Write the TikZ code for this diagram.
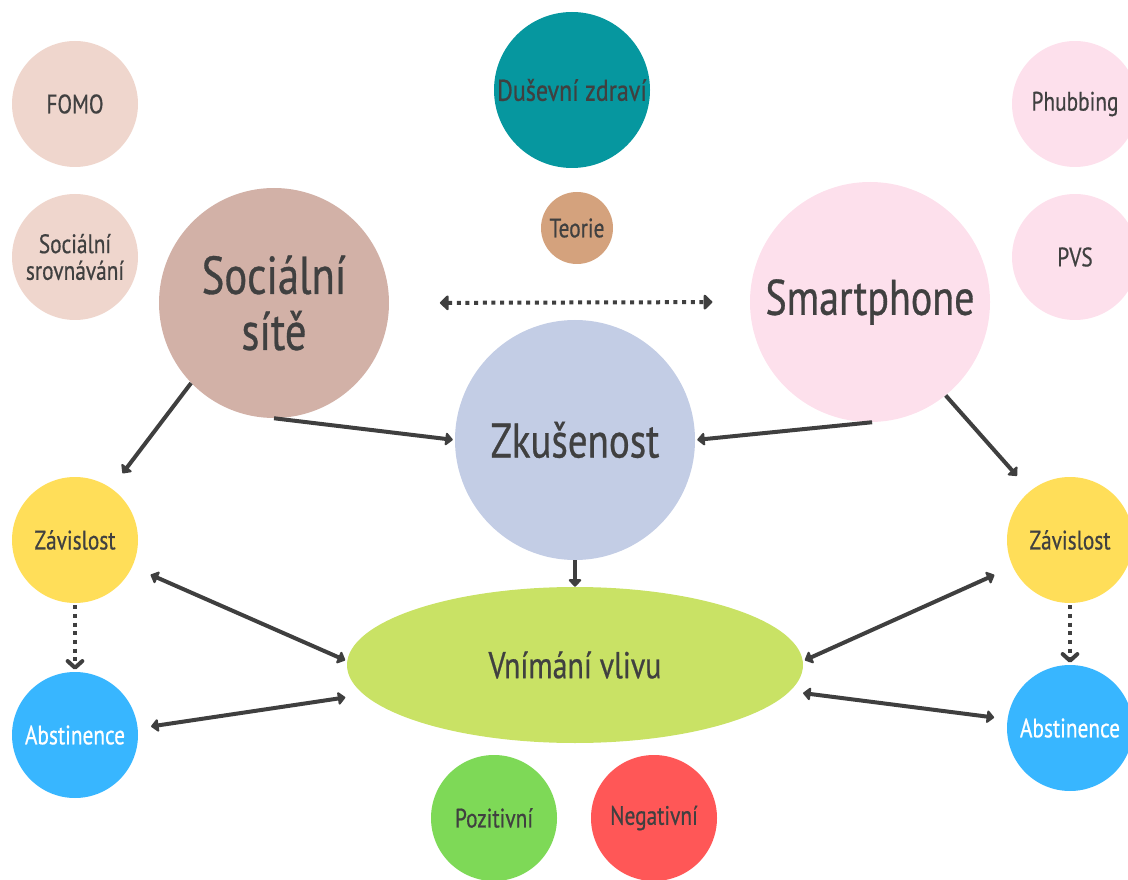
\documentclass[tikz,border=0pt]{standalone}
\usepackage{fontspec}
\setmainfont{PT Sans}[FakeStretch=0.8,FakeBold=0.6]
\usetikzlibrary{arrows.meta,shapes.geometric}
\definecolor{txt}{HTML}{404040}
\definecolor{ac}{HTML}{3F3F3F}
\definecolor{cBeige}{HTML}{EFD6CD}
\definecolor{cRose}{HTML}{D2B1A7}
\definecolor{cTeal}{HTML}{06979F}
\definecolor{cTan}{HTML}{D4A27D}
\definecolor{cPink}{HTML}{FDE0EC}
\definecolor{cLav}{HTML}{C3CDE5}
\definecolor{cYel}{HTML}{FFDE59}
\definecolor{cBlue}{HTML}{38B6FF}
\definecolor{cLime}{HTML}{C9E265}
\definecolor{cGreen}{HTML}{7ED957}
\definecolor{cRed}{HTML}{FF5757}
\tikzset{
  bub/.style={circle, inner sep=0pt, align=center, text=txt},
  small/.style={bub, minimum size=94.5pt, font=\fontsize{20}{20}\selectfont},
  arr/.style={draw=ac, line width=3pt, -{Triangle[round,length=6pt,width=11pt]}},
  darr/.style={draw=ac, line width=3pt, {Triangle[round,length=6pt,width=11pt]}-{Triangle[round,length=6pt,width=11pt]}},
  dotarr/.style={draw=ac, line width=3pt, dash pattern=on 3pt off 3.5pt, -{Straight Barb[round,length=5pt,width=11pt]}},
  dotdarr/.style={draw=ac, line width=3pt, dash pattern=on 3pt off 3.5pt, {Triangle[round,length=7pt,width=13pt]}-{Triangle[round,length=7pt,width=13pt]}}
}
\begin{document}
\begin{tikzpicture}[x=0.75pt,y=-0.75pt]
\useasboundingbox (0,0) rectangle (1128,880);
% nodes
\node[small, fill=cBeige] (fomo) at (75,104) {FOMO};
\node[small, fill=cBeige] (srov) at (75,257) {Sociální\\srovnávání};
\node[bub, fill=cRose, minimum size=172.5pt, font=\fontsize{40}{42}\selectfont] (ss) at (274,303) {Sociální\\sítě};
\node[bub, fill=cTeal, minimum size=117pt, font=\fontsize{22.5}{24}\selectfont] (dz) at (572,90) {Duševní zdraví};
\node[bub, fill=cTan, minimum size=54pt, font=\fontsize{20}{22}\selectfont] (teo) at (577,228) {Teorie};
\node[small, fill=cPink] (phub) at (1075,104) {Phubbing};
\node[small, fill=cPink] (pvs) at (1075,257) {PVS};
\node[bub, fill=cPink, minimum size=180pt, font=\fontsize{37.5}{40}\selectfont] (sm) at (870,302) {Smartphone};
\node[bub, fill=cLav, minimum size=180pt, font=\fontsize{36.5}{38}\selectfont] (zk) at (575,440) {Zkušenost};
\node[small, fill=cYel] (zav1) at (75,540) {Závislost};
\node[small, fill=cBlue, text=white] (ab1) at (75,735) {Abstinence};
\node[small, fill=cYel] (zav2) at (1070,540) {Závislost};
\node[small, fill=cBlue, text=white] (ab2) at (1070,728) {Abstinence};
\node[ellipse, inner sep=0pt, fill=cLime, text=txt, minimum width=342pt, minimum height=117pt, font=\fontsize{28}{30}\selectfont] (vn) at (575,665) {Vnímání vlivu};
\node[small, fill=cGreen] (poz) at (494,818) {Pozitivní};
\node[small, fill=cRed] (neg) at (654,818) {Negativní};
% connectors
\draw[dotdarr, shorten <=38pt, shorten >=28pt] (ss.east) -- (sm.west);
\draw[arr, shorten >=14pt] (ss.224) -- (zav1.55);
\draw[arr, shorten >=1.5pt] (ss.270) -- (zk.180);
\draw[arr, shorten >=1.5pt] (sm.271) -- (zk.0);
\draw[arr, shorten >=15pt] (sm.-51) -- (zav2.129);
\draw[arr] (zk.270) -- (vn.90);
\draw[darr, shorten <=15pt, shorten >=1.5pt] (zav1.-25) -- (vn.179);
\draw[darr, shorten <=10pt, shorten >=14pt] (ab1.6) -- (vn.188);
\draw[darr, shorten <=15pt, shorten >=1.5pt] (zav2.205) -- (vn.1);
\draw[darr, shorten <=10pt, shorten >=10pt] (vn.-7) -- (ab2.172);
\draw[dotarr, shorten <=1.5pt, shorten >=1.5pt] (zav1.270) -- (ab1.90);
\draw[dotarr, shorten <=1.5pt, shorten >=1.5pt] (zav2.270) -- (ab2.90);
\end{tikzpicture}
\end{document}
